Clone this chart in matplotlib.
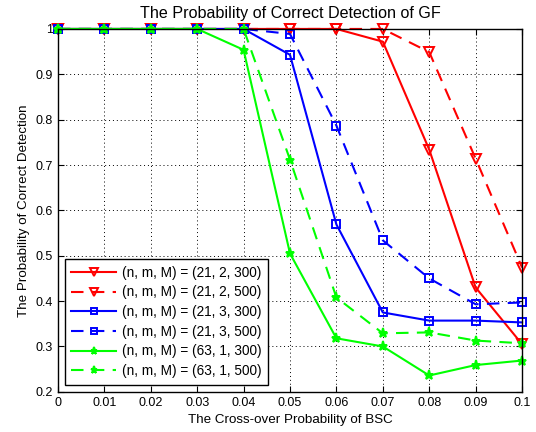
import matplotlib
matplotlib.use("Agg")
import matplotlib.pyplot as plt

plt.rcParams['font.family'] = ['Liberation Sans', 'DejaVu Sans']

p = [0, 0.01, 0.02, 0.03, 0.04, 0.05, 0.06, 0.07, 0.08, 0.09, 0.1]
r300 = [1, 1, 1, 1, 1, 1, 1, 0.972, 0.734, 0.43, 0.305]
r500 = [1, 1, 1, 1, 1, 1, 1, 1, 0.949, 0.714, 0.474]
b300 = [1, 1, 1, 1, 1, 0.943, 0.569, 0.375, 0.357, 0.357, 0.353]
b500 = [1, 1, 1, 1, 1, 0.989, 0.787, 0.534, 0.45, 0.393, 0.397]
g300 = [1, 1, 1, 1, 0.954, 0.505, 0.318, 0.30, 0.236, 0.259, 0.269]
g500 = [1, 1, 1, 1, 1, 0.712, 0.408, 0.329, 0.331, 0.313, 0.307]
labels = ['(n, m, M) = (21, 2, 300)', '(n, m, M) = (21, 2, 500)',
          '(n, m, M) = (21, 3, 300)', '(n, m, M) = (21, 3, 500)',
          '(n, m, M) = (63, 1, 300)', '(n, m, M) = (63, 1, 500)']
xticks = [0, 0.01, 0.02, 0.03, 0.04, 0.05, 0.06, 0.07, 0.08, 0.09, 0.1]
xticklabels = ['0', '0.01', '0.02', '0.03', '0.04', '0.05', '0.06', '0.07', '0.08', '0.09', '0.1']
yticks = [0.2, 0.3, 0.4, 0.5, 0.6, 0.7, 0.8, 0.9, 1.0]
yticklabels = ['0.2', '0.3', '0.4', '0.5', '0.6', '0.7', '0.8', '0.9', '1']

fig = plt.figure(figsize=(5.36, 4.32), dpi=100)
ax = fig.add_axes([0.108, 0.093, 0.866, 0.84])

dash = (0, (6, 4))
series = [
    (r300, '#ff0000', '-', 'v', 'none', 7.5),
    (r500, '#ff0000', dash, 'v', 'none', 7.5),
    (b300, '#0000ff', '-', 's', 'none', 6.2),
    (b500, '#0000ff', dash, 's', 'none', 6.2),
    (g300, '#00ff00', '-', '*', '#00ff00', 6.5),
    (g500, '#00ff00', dash, '*', '#00ff00', 6.5),
]
for (ys, c, ls, mk, mfc, ms), lab in zip(series, labels):
    ax.plot(p, ys, color=c, linestyle=ls, marker=mk, markerfacecolor=mfc,
            markeredgecolor=c, markersize=ms, markeredgewidth=1.4,
            linewidth=1.5, label=lab, clip_on=False)

ax.set_xlim(0, 0.1)
ax.set_ylim(0.2, 1.0)
ax.set_xticks(xticks)
ax.set_xticklabels(xticklabels)
ax.set_yticks(yticks)
ax.set_yticklabels(yticklabels)
ax.tick_params(direction='in', labelsize=9, top=True, right=True, length=4)
ax.grid(True, color='black', linestyle=(0, (1, 3)), linewidth=0.7)
for s in ax.spines.values():
    s.set_linewidth(1.0)
ax.set_title('The Probability of Correct Detection of GF', fontsize=11.6, pad=8)
ax.set_xlabel('The Cross-over Probability of BSC', fontsize=9.6)
ax.set_ylabel('The Probability of Correct Detection', fontsize=9.6)
leg = ax.legend(loc='lower left', fontsize=9.8, fancybox=False, framealpha=1,
                edgecolor='black', handlelength=3.3, borderaxespad=0.5,
                labelspacing=0.42, markerscale=0.8, handletextpad=0.4,
                borderpad=0.5)
leg.get_frame().set_linewidth(1.0)
fig.savefig('out.png', dpi=100)
